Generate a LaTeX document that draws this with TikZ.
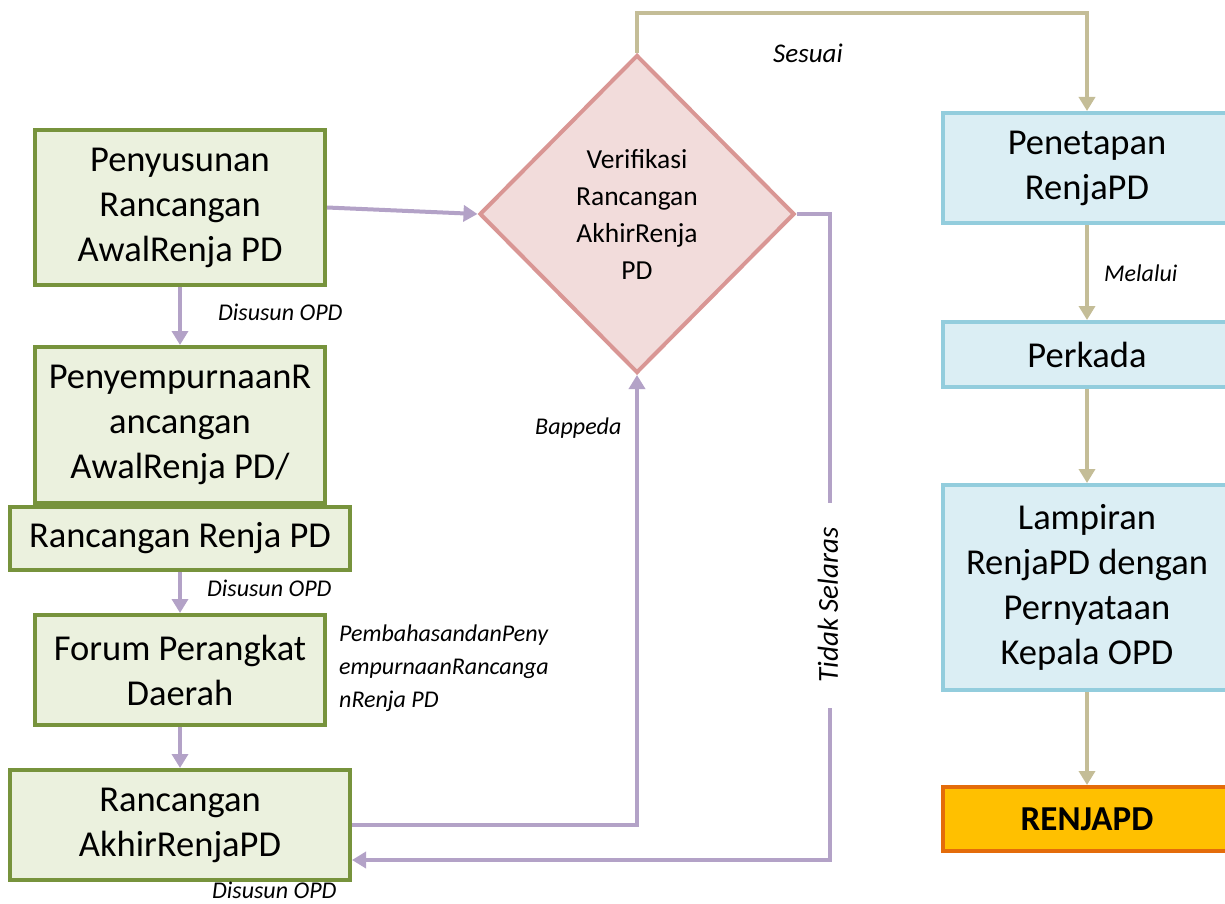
\documentclass[tikz,border=0pt]{standalone}
\usepackage{fontspec}
\setmainfont{Carlito}
\usetikzlibrary{shapes.geometric,arrows.meta}
\definecolor{gborder}{HTML}{77933C}
\definecolor{gfill}{HTML}{EBF1DE}
\definecolor{rborder}{HTML}{D99694}
\definecolor{rfill}{HTML}{F2DCDB}
\definecolor{bborder}{HTML}{93CDDD}
\definecolor{bfill}{HTML}{DBEEF4}
\definecolor{oborder}{HTML}{E46C0A}
\definecolor{ofill}{HTML}{FFC000}
\definecolor{purp}{HTML}{B3A2C7}
\definecolor{olive}{HTML}{C4BD97}
\begin{document}
\begin{tikzpicture}[x=1pt,y=-1pt,
  gbox/.style={draw=gborder, fill=gfill, line width=4pt, align=center, inner sep=0pt,
    font=\fontsize{36.5}{45}\selectfont},
  bbox/.style={draw=bborder, fill=bfill, line width=4pt, align=center, inner sep=0pt,
    minimum width=288pt, font=\fontsize{36.5}{45}\selectfont},
  lab/.style={font=\fontsize{24}{33}\selectfont\itshape, inner sep=0pt},
  parr/.style={draw=purp, line width=4pt, -{Triangle[length=14pt,width=16pt]}},
  oarr/.style={draw=olive, line width=4pt, -{Triangle[length=14pt,width=16pt]}}
]
\useasboundingbox (0,0) rectangle (1225,904);
\clip (0,0) rectangle (1225,904);

% left column
\node[gbox, minimum width=290pt, minimum height=155pt] (b1) at (180,207.5)
  {Penyusunan\\Rancangan\\AwalRenja PD};
\node[gbox, minimum width=290pt, minimum height=156pt] (b2) at (180,425)
  {PenyempurnaanR\\ancangan\\AwalRenja PD/};
\node[gbox, minimum width=340pt, minimum height=63pt] (b3) at (180,538.5)
  {Rancangan Renja PD};
\node[gbox, minimum width=290pt, minimum height=110pt] (b4) at (180,670)
  {Forum Perangkat\\Daerah};
\node[gbox, minimum width=340pt, minimum height=110pt] (b5) at (180,825)
  {Rancangan\\AkhirRenjaPD};

% diamond
\node[diamond, draw=rborder, fill=rfill, line width=4pt, aspect=1, inner sep=0pt,
  minimum width=315pt, minimum height=318pt, align=center,
  font=\fontsize{27.5}{37}\selectfont] (d) at (637,214)
  {Verifikasi\\Rancangan\\AkhirRenja\\PD};

% right column
\node[bbox, minimum height=110pt] (p1) at (1087,168) {Penetapan\\RenjaPD};
\node[bbox, minimum height=65pt] (p2) at (1087,354.5) {Perkada};
\node[bbox, minimum height=205pt] (p3) at (1087,587.5)
  {Lampiran\\RenjaPD dengan\\Pernyataan\\Kepala OPD};
\node[draw=oborder, fill=ofill, line width=4pt, inner sep=0pt, minimum width=288pt,
  minimum height=64pt, font=\fontsize{35}{44}\selectfont\bfseries] (p4) at (1087,819)
  {RENJAPD};

% purple connectors
\draw[parr] (b1.east) -- (d.west);
\draw[parr] (b1.south) -- (b2.north);
\draw[parr] (b3.south) -- (b4.north);
\draw[parr] (b4.south) -- (b5.north);
\draw[parr] (b5.east) -| (d.south);
\draw[parr] (d.east) -- ++(33,0) coordinate (tr) |- ([yshift=-35pt]b5.east);

% olive connectors
\draw[oarr] (d.north) -- ++(0,-40) -| (p1.north);
\draw[oarr] (p1.south) -- (p2.north);
\draw[oarr] (p2.south) -- (p3.north);
\draw[oarr] (p3.south) -- (p4.north);

% labels
\node[lab, anchor=west] (l1) at (218,312) {Disusun OPD};
\node[lab, anchor=west] (l2) at (207,588) {Disusun OPD};
\node[lab, anchor=west] (l3) at (212,890) {Disusun OPD};
\node[lab, anchor=north west, align=left] (l4) at (339,625)
  {PembahasandanPeny\\empurnaanRancanga\\nRenja PD};
\node[lab, anchor=west] (l5) at (535,428) {Bappeda};
\node[lab, anchor=west, font=\fontsize{27}{33}\selectfont\itshape] (l6) at (773,53) {Sesuai};
\node[lab, anchor=west] (l7) at (1104,273) {Melalui};
\node[lab, fill=white, rotate=90, minimum width=205pt, minimum height=46pt,
  font=\fontsize{29}{33}\selectfont\itshape] (l8)
  at (828,605) {Tidak Selaras};
\end{tikzpicture}
\end{document}
